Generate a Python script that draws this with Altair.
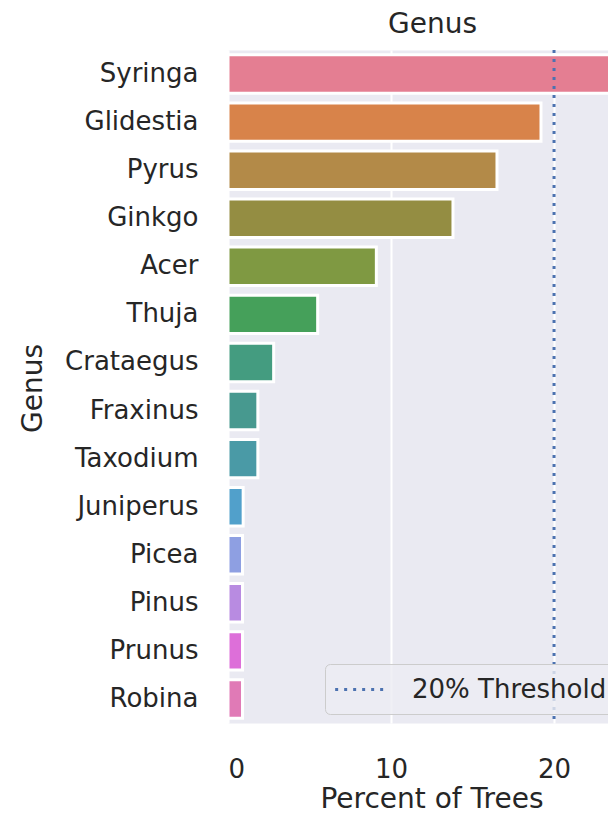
import altair as alt
import pandas as pd

genera = ["Syringa", "Glidestia", "Pyrus", "Ginkgo", "Acer", "Thuja", "Crataegus",
          "Fraxinus", "Taxodium", "Juniperus", "Picea", "Pinus", "Prunus", "Robina"]
percent = [23.7, 19.2, 16.5, 13.8, 9.1, 5.5, 2.8, 1.83, 1.83, 0.93, 0.89, 0.89, 0.89, 0.89]
colors = ["#e47e92", "#d8834a", "#b38a48", "#948d42", "#7f9942", "#45a05a", "#449c80",
          "#47998f", "#4a9aa6", "#51a0cb", "#8e9fe2", "#b88be1", "#dd6fd9", "#e07ab6"]
threshold = [20]
threshold_label = ["20% Threshold"]
x_ticks = [0, 10, 20]
x_max = 23.31

FONT = "DejaVu Sans"
TXT = "#262626"

df = pd.DataFrame({"Genus": genera, "Percent": percent})
df_t = pd.DataFrame({"t": threshold, "label": threshold_label})

bars = alt.Chart(df).mark_bar(stroke="white", strokeWidth=3, clip=True).encode(
    y=alt.Y("Genus:N", sort=genera,
            scale=alt.Scale(paddingInner=0.2, paddingOuter=0.1),
            axis=alt.Axis(title="Genus", labelFontSize=26, titleFontSize=28,
                          labelFont=FONT, titleFont=FONT, labelColor=TXT, titleColor=TXT,
                          titleFontWeight="normal", ticks=False, tickSize=0, domain=False,
                          labelPadding=30, grid=False,
                          titleX=-187, titleY=338, titleAngle=270, titleAlign="center",
                          titleBaseline="alphabetic")),
    x=alt.X("Percent:Q", scale=alt.Scale(domain=[0, x_max], nice=False, zero=True),
            axis=alt.Axis(title="Percent of Trees", values=x_ticks, labelFontSize=26,
                          titleFontSize=28, labelFont=FONT, titleFont=FONT,
                          labelColor=TXT, titleColor=TXT, titleFontWeight="normal",
                          ticks=False, tickSize=0, domain=False, labelPadding=33,
                          titleX=203.5, titleY=84, titleAlign="center",
                          titleBaseline="alphabetic",
                          grid=True, gridColor="white", gridWidth=2)),
    color=alt.Color("Genus:N", scale=alt.Scale(domain=genera, range=colors), legend=None),
)

rule = alt.Chart(df_t).mark_rule(strokeDash=[3, 6], strokeWidth=3).encode(
    x=alt.X("t:Q",
            axis=alt.Axis(orient="top", title="Genus", labels=False, ticks=False,
                          domain=False, grid=False, titleFontSize=28, titleFont=FONT,
                          titleColor=TXT, titleFontWeight="normal", titleX=204,
                          titleY=-18, titleAlign="center", titleBaseline="alphabetic")),
    color=alt.Color("label:N", scale=alt.Scale(domain=threshold_label, range=["#4c72b0"]),
                    legend=alt.Legend(title=None, orient="none", legendX=97, legendY=614,
                                      symbolType="M-1.18,0H2.82", symbolSize=676,
                                      symbolDash=[3, 6], symbolStrokeWidth=3,
                                      labelFontSize=26, labelFont=FONT, labelColor=TXT,
                                      labelLimit=600, labelOffset=47, padding=11,
                                      fillColor="rgba(236,236,243,0.8)",
                                      strokeColor="#cccccc", cornerRadius=5)),
)

chart = alt.layer(bars, rule).resolve_scale(color="independent").resolve_axis(
    x="independent"
).properties(
    width=380, height=673,
    autosize=alt.AutoSizeParams(type="none"),
    padding={"left": 220, "top": 42, "right": 0, "bottom": 90},
    background="white",
).configure_view(fill="#eaeaf2", stroke="transparent")

chart.save("out.html", embed_options={"renderer": "svg", "actions": False})
